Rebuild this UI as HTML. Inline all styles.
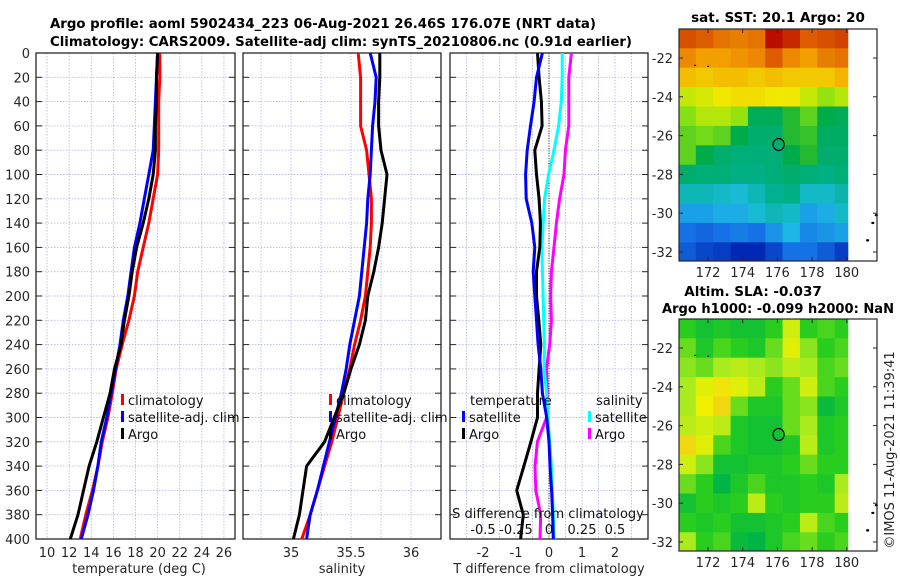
<!DOCTYPE html>
<html><head><meta charset="utf-8"><style>
html,body{margin:0;padding:0;background:#fff;}
svg{display:block;font-family:"DejaVu Sans","Liberation Sans",sans-serif;}
</style></head><body>
<svg id="fig" width="900" height="580" viewBox="0 0 900 580">
<text x="50" y="28" font-size="13.5" font-weight="bold" textLength="546" lengthAdjust="spacingAndGlyphs">Argo profile: aoml 5902434_223 06-Aug-2021 26.46S 176.07E (NRT data)</text>
<text x="50" y="46" font-size="13.5" font-weight="bold" textLength="582" lengthAdjust="spacingAndGlyphs">Climatology: CARS2009. Satellite-adj clim: synTS_20210806.nc (0.91d earlier)</text>
<g id="g"></g>
</svg>
<script>
const depths=[0,20,40,60,80,100,120,140,160,180,200,220,240,260,280,300,320,340,360,380,400];
const tClim=[20.2,20.2,20.1,20.1,20.1,20.0,19.6,19.2,18.7,18.2,17.9,17.4,16.8,16.25,15.9,15.5,15.0,14.6,14.1,13.5,13.0];
const tSat=[20.0,19.9,19.8,19.7,19.6,19.2,18.8,18.4,17.9,17.6,17.3,16.9,16.6,16.2,15.8,15.4,14.9,14.6,14.2,13.7,13.1];
const tArgo=[20.0,19.9,19.9,19.8,19.8,19.6,19.2,18.7,18.1,17.7,17.4,17.0,16.7,16.1,15.7,15.1,14.5,13.8,13.3,12.8,12.1];
const sClim=[35.56,35.58,35.58,35.58,35.63,35.65,35.67,35.67,35.66,35.64,35.62,35.58,35.53,35.49,35.44,35.39,35.34,35.28,35.22,35.16,35.09];
const sSat=[35.66,35.71,35.70,35.68,35.67,35.66,35.64,35.63,35.61,35.59,35.57,35.53,35.49,35.46,35.42,35.37,35.32,35.27,35.22,35.16,35.13];
const sArgo=[35.74,35.74,35.73,35.73,35.75,35.80,35.78,35.76,35.73,35.69,35.64,35.62,35.57,35.50,35.44,35.36,35.28,35.13,35.10,35.07,35.02];
const dTSat=[-0.2,-0.38,-0.45,-0.56,-0.66,-0.71,-0.69,-0.52,-0.43,-0.48,-0.43,-0.38,-0.33,-0.25,-0.2,-0.07,0,0.03,0.08,0.11,0.13];
const dTArgo=[-0.35,-0.3,-0.23,-0.21,-0.43,-0.38,-0.3,-0.26,-0.28,-0.38,-0.38,-0.31,-0.25,-0.3,-0.35,-0.35,-0.55,-0.76,-0.98,-0.78,-0.86];
const dSSat=[0.10,0.10,0.093,0.073,0.038,-0.003,-0.033,-0.045,-0.053,-0.05,-0.045,-0.04,-0.035,-0.036,-0.018,-0.008,0.005,0.018,0.025,0.033,0.038];
const dSArgo=[0.17,0.15,0.15,0.15,0.124,0.114,0.08,0.056,0.038,0.018,0.013,0.018,0.005,-0.02,-0.013,-0.018,-0.088,-0.106,-0.1,-0.063,-0.068];
const depthTicks=[0,20,40,60,80,100,120,140,160,180,200,220,240,260,280,300,320,340,360,380,400];
const tTicks=[10,12,14,16,18,20,22,24,26];
const sTicks=[35,35.5,36];
const dTTicks=[-2,-1,0,1,2];
const dSTickLabels=["-0.5","-0.25","0","0.25","0.5"];
const dSTickVals=[-0.5,-0.25,0,0.25,0.5];
const lats=[-21,-22,-23,-24,-25,-26,-27,-28,-29,-30,-31,-32];
const lons=[170.8,171.8,172.8,173.8,174.8,175.8,176.8,177.8,178.8,179.8];
const sst=[
[23.3,23.2,23.0,22.9,23.0,23.8,23.6,23.2,23.3,23.4],
[22.8,22.6,22.6,22.7,22.8,23.2,22.8,22.6,22.9,23.0],
[22.3,22.2,22.3,22.3,22.2,22.3,22.2,22.2,22.2,22.4],
[21.6,21.7,21.9,22.0,22.0,21.9,21.9,21.6,21.3,21.5],
[21.2,21.5,21.5,21.3,20.3,20.3,20.7,21.0,20.4,20.3],
[21.0,21.1,21.0,20.4,20.1,20.1,20.7,20.8,20.2,20.2],
[21.0,20.4,20.1,20.0,20.0,20.0,20.4,20.7,20.1,20.1],
[20.1,20.0,20.0,19.9,19.9,20.0,20.1,20.0,19.9,20.0],
[19.5,19.5,19.4,19.3,19.5,19.8,19.9,19.4,19.4,19.6],
[18.9,18.9,19.0,19.0,19.3,19.5,19.4,18.9,19.0,19.4],
[18.5,18.4,18.5,18.6,18.5,18.8,19.1,18.7,18.8,18.9],
[18.3,18.1,18.0,17.6,17.5,18.1,18.5,18.5,18.3,18.0]];
const sla=[
[.4,.3,.35,.3,.3,.4,.7,.4,.45,.4],
[.5,.35,.45,.4,.35,.5,.75,.55,.4,.45],
[.55,.5,.6,.65,.6,.55,.65,.6,.45,.5],
[.6,.75,.85,.75,.65,.4,.5,.7,.45,.4],
[.6,.8,.9,.5,.35,.35,.5,.55,.25,.35],
[.65,.7,.65,.35,.3,.3,.5,.6,.35,.4],
[.9,.75,.45,.35,.3,.3,.35,.65,.35,.4],
[.7,.55,.3,.3,.35,.35,.4,.5,.4,.4],
[.5,.4,.2,.35,.45,.35,.35,.4,.35,.6],
[.3,.4,.35,.4,.65,.4,.35,.4,.4,.65],
[.4,.35,.4,.3,.3,.35,.4,.65,.45,.4],
[.6,.4,.45,.25,.2,.35,.45,.5,.4,.45]];
const latTicks=[-22,-24,-26,-28,-30,-32];
const lonTicks=[172,174,176,178,180];

const NS="http://www.w3.org/2000/svg";
const G=document.getElementById('g');
function mk(tag,attrs,parent,txt){const e=document.createElementNS(NS,tag);for(const k in attrs)e.setAttribute(k,attrs[k]);if(txt!==undefined)e.textContent=txt;(parent||G).appendChild(e);return e;}
const Y0=53,Y1=539;
const yD=d=>Y0+(Y1-Y0)*d/400;
const panels=[
 {x0:36,x1:235,lo:9,hi:27,name:'temperature-panel'},
 {x0:243,x1:441,lo:34.6,hi:36.25,name:'salinity-panel'},
 {x0:450,x1:648,lo:-3,hi:3,name:'difference-panel'}];
const sx=(p,v)=>p.x0+(p.x1-p.x0)*(v-p.lo)/(p.hi-p.lo);
const ink='#262626';
panels.forEach((p,i)=>{
 const g=mk('g',{});
 
 
 const ticks=i===0?tTicks:i===1?[34.75,35,35.25,35.5,35.75,36]:dTTicks.concat([-2.5,-1.5,-0.5,0.5,1.5,2.5]);
 ticks.forEach(v=>{const x=sx(p,v);const l=mk('line',{x1:x,x2:x,y1:Y0,y2:Y1,stroke:'#b8bce0','stroke-width':0.9,'stroke-dasharray':'1.5,1.5'},g);
  });
 depthTicks.forEach(d=>{if(d===0||d===400)return;const y=yD(d);const l=mk('line',{x1:p.x0,x2:p.x1,y1:y,y2:y,stroke:'#b8bce0','stroke-width':0.9,'stroke-dasharray':'1.5,1.5'},g);
  
  mk('line',{x1:p.x0,x2:p.x0+6,y1:y,y2:y,stroke:ink,'stroke-width':1},g);
  mk('line',{x1:p.x1-6,x2:p.x1,y1:y,y2:y,stroke:ink,'stroke-width':1},g);});
 const r=mk('rect',{x:p.x0,y:Y0,width:p.x1-p.x0,height:Y1-Y0,fill:'none',stroke:ink,'stroke-width':1.3},g);
 
});
depthTicks.forEach(d=>{const t=mk('text',{x:30,y:yD(d)+5,'font-size':13,fill:ink,'text-anchor':'end'},G,String(d));
 });
function xlabels(p,vals,labs){vals.forEach((v,k)=>{const t=mk('text',{x:sx(p,v),y:557,'font-size':13,fill:ink,'text-anchor':'middle'},G,labs?labs[k]:String(v));
 });}
xlabels(panels[0],tTicks);xlabels(panels[1],sTicks);xlabels(panels[2],dTTicks);
[['temperature (deg C)',139,'x-axis-title-temperature'],['salinity',342,'x-axis-title-salinity'],['T difference from climatology',549,'x-axis-title-t-difference']].forEach(a=>{
 const t=mk('text',{x:a[1],y:573,'font-size':13,fill:ink,'text-anchor':'middle'},G,a[0]);});
const pz=panels[2];
const zl=mk('line',{x1:sx(pz,0),x2:sx(pz,0),y1:Y0,y2:Y1,stroke:'#333','stroke-width':1,'stroke-dasharray':'1,1.5'});

function line(p,vals,color,name,scale){const pts=vals.map((v,k)=>sx(p,v*(scale||1)).toFixed(1)+','+yD(depths[k]).toFixed(1)).join(' ');
 const e=mk('polyline',{points:pts,fill:'none',stroke:color,'stroke-width':3,'stroke-linejoin':'round'});
 }
line(panels[0],tClim,'#ff0000','temp-climatology-line');
line(panels[0],tSat,'#0000ff','temp-satellite-line');
line(panels[0],tArgo,'#000','temp-argo-line');
line(panels[1],sClim,'#ff0000','sal-climatology-line');
line(panels[1],sSat,'#0000ff','sal-satellite-line');
line(panels[1],sArgo,'#000','sal-argo-line');
line(pz,dSArgo,'#ff00ff','sdiff-argo-line',4);
line(pz,dSSat,'#00ffff','sdiff-satellite-line',4);
line(pz,dTArgo,'#000','tdiff-argo-line');
line(pz,dTSat,'#0000ff','tdiff-satellite-line');
function leg(x,y,color,label,name){const m=mk('rect',{x:x,y:y-11,width:3,height:11,fill:color});
 const t=mk('text',{x:x+7,y:y,'font-size':13,fill:'#111'},G,label);}
leg(121,405,'#ff0000','climatology','legend-climatology');
leg(121,422,'#0000ff','satellite-adj. clim','legend-satellite');
leg(121,439,'#000','Argo','legend-argo');
leg(329,405,'#ff0000','climatology','legend-climatology-sal');
leg(329,422,'#0000ff','satellite-adj. clim','legend-satellite-sal');
leg(329,439,'#000','Argo','legend-argo-sal');
let tt=mk('text',{x:470,y:405,'font-size':13,fill:'#111'},G,'temperature');
tt=mk('text',{x:596,y:405,'font-size':13,fill:'#111'},G,'salinity');
leg(462,422,'#0000ff','satellite','legend-t-satellite');
leg(462,439,'#000','Argo','legend-t-argo');
leg(588,422,'#00ffff','satellite','legend-s-satellite');
leg(588,439,'#ff00ff','Argo','legend-s-argo');
tt=mk('text',{x:548,y:518,'font-size':13,fill:'#111','text-anchor':'middle'},G,'S difference from climatology');
dSTickVals.forEach((v,k)=>{const t=mk('text',{x:sx(pz,v*4),y:534,'font-size':13,fill:'#111','text-anchor':'middle'},G,dSTickLabels[k]);});

function lerpC(stops,t){t=Math.max(0,Math.min(1,t));const n=stops.length-1;const i=Math.min(n-1,Math.floor(t*n));const f=t*n-i;
 const a=stops[i],b=stops[i+1];return 'rgb('+[0,1,2].map(j=>Math.round(a[j]+(b[j]-a[j])*f)).join(',')+')';}
const sstStops=[[0,40,180],[20,110,230],[30,190,230],[0,175,140],[0,170,60],[130,225,20],[240,235,0],[245,165,0],[220,90,0],[180,0,0]];
const slaStops=[[0,195,160],[0,180,70],[40,205,30],[170,235,30],[240,240,0],[240,190,30]];
function map(y0,y1,data,colorFn,name){
 const mg=mk('g',{});
 const X0=679,X1=877;
 const lx=lon=>708+(lon-172)*17.35;
 const latY0=y0+29;
 const ly=lat=>latY0+(-22-lat)*19.4;
 mk('rect',{x:X0,y:y0,width:X1-X0,height:y1-y0,fill:'#fff'},mg);
 data.forEach((row,r)=>row.forEach((v,c)=>{
  const xa=Math.max(X0,lx(lons[c]-0.5)),xb=Math.min(848,lx(lons[c]+0.5));
  const ya=Math.max(y0,ly(lats[r]+0.5)),yb=Math.min(y1,ly(lats[r]-0.5));
  const cell=mk('rect',{x:xa,y:ya,width:xb-xa+0.3,height:yb-ya+0.3,fill:colorFn(v)},mg);
  }));
 [[181.2,-31.4],[181.5,-30.5],[181.7,-30.1]].forEach(p=>mk('ellipse',{cx:lx(p[0]),cy:ly(p[1]),rx:1.6,ry:1.2,fill:'#000'},mg));
 mk('rect',{x:lx(171.2),y:ly(-22.35),width:2,height:1,fill:'#000'},mg);
 mk('rect',{x:lx(171.95),y:ly(-22.4),width:2,height:1,fill:'#000'},mg);
 const circ=mk('ellipse',{cx:lx(176.07),cy:ly(-26.46),rx:5.5,ry:6,fill:'none',stroke:'#000','stroke-width':1.2},mg);
 
 mk('rect',{x:X0,y:y0,width:X1-X0,height:y1-y0,fill:'none',stroke:ink,'stroke-width':1.2},mg);
 lonTicks.forEach(l=>{const x=lx(l);mk('line',{x1:x,x2:x,y1:y1,y2:y1-4,stroke:ink},mg);mk('line',{x1:x,x2:x,y1:y0,y2:y0+4,stroke:ink},mg);
  const t=mk('text',{x:x,y:y1+16,'font-size':13,fill:ink,'text-anchor':'middle'},mg,String(l));});
 latTicks.forEach(l=>{const y=ly(l);mk('line',{x1:X1,x2:X1-4,y1:y,y2:y,stroke:ink},mg);mk('line',{x1:X0,x2:X0+4,y1:y,y2:y,stroke:ink},mg);
  const t=mk('text',{x:673,y:y+5,'font-size':13,fill:ink,'text-anchor':'end'},mg,String(l));});
}
map(29,261,sst,v=>lerpC(sstStops,(v-17.8)/(23.9-17.8)),'sst-map');
map(319,551,sla,v=>lerpC(slaStops,v),'sla-map');
tt=mk('text',{x:778,y:22,'font-size':13.5,'font-weight':'bold','text-anchor':'middle'},G,'sat. SST: 20.1 Argo: 20');
tt=mk('text',{x:753,y:296,'font-size':13.5,'font-weight':'bold','text-anchor':'middle'},G,'Altim. SLA: -0.037');
tt=mk('text',{x:778,y:313,'font-size':13.5,'font-weight':'bold','text-anchor':'middle',textLength:232,lengthAdjust:'spacingAndGlyphs'},G,'Argo h1000: -0.099 h2000: NaN');
tt=mk('text',{x:0,y:0,'font-size':13,fill:ink,'text-anchor':'middle',transform:'translate(894,450) rotate(-90)'},G,'©IMOS 11-Aug-2021 11:39:41');
</script>
</body></html>
